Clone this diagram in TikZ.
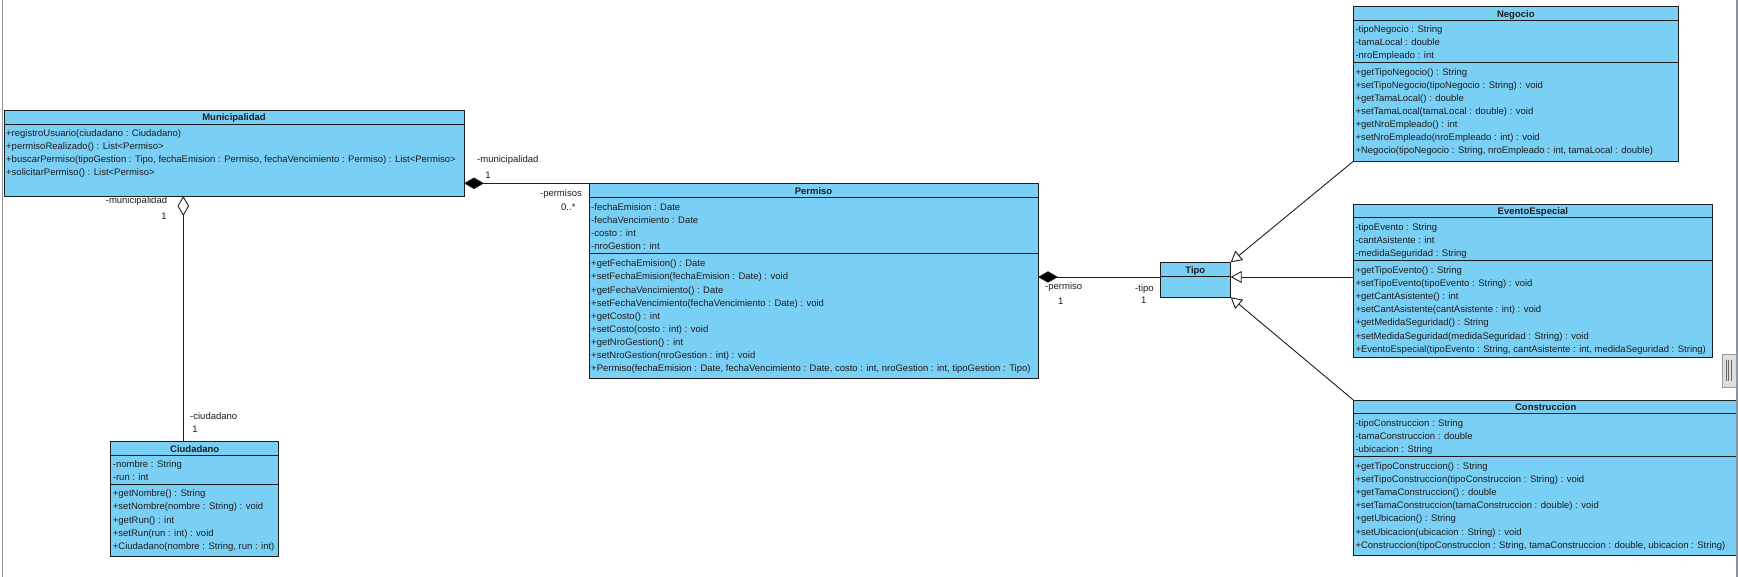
\documentclass[tikz,border=0pt]{standalone}
\usepackage{fontspec}
\setmainfont{Liberation Sans}
\usepackage{tikz}
\usetikzlibrary{arrows.meta}
\definecolor{ClassBlue}{RGB}{122,207,245}
\definecolor{EdgeGrey}{RGB}{30,30,30}
\definecolor{FrameGrey}{RGB}{140,146,154}
\definecolor{GripGrey}{RGB}{222,222,222}

\begin{document}
\begin{tikzpicture}[x=1pt,y=-1pt,
  cls/.style={draw=EdgeGrey, fill=ClassBlue, line width=0.9pt, inner sep=0pt, outer sep=0pt, anchor=north west},
  ttl/.style={font=\bfseries\fontsize{9.5}{11}\selectfont, text=EdgeGrey, inner sep=0pt, anchor=base},
  mem/.style={font=\fontsize{9.5}{13.1}\selectfont, text=EdgeGrey, align=left, inner sep=0pt, anchor=north west},
  lbl/.style={font=\fontsize{9.5}{11}\selectfont, text=EdgeGrey, inner sep=0pt, anchor=base west},
  sep/.style={draw=EdgeGrey, line width=0.9pt},
  comp/.style={{Diamond[length=20pt,width=11.5pt,fill=black]}-, draw=EdgeGrey, line width=0.9pt},
  aggr/.style={{Diamond[length=20pt,width=11.5pt,fill=white]}-, draw=EdgeGrey, line width=0.9pt},
  gen/.style={-{Triangle[length=11pt,width=12pt,fill=white]}, draw=EdgeGrey, line width=0.9pt}
]
\useasboundingbox (0,0) rectangle (1738,577);
\fill[white] (0,0) rectangle (1738,577);
%
% Municipalidad
\node[cls, minimum width=460pt, minimum height=85.3pt] (mun) at (4,110.7) {};
\draw[sep] (4,124) -- (464,124);
\node[ttl] (mun-t) at (234,121) {Municipalidad};
\node[mem] (mun-m) at (6,126.9) {\strut+registroUsuario(ciudadano : Ciudadano)\\
  +permisoRealizado() : List<Permiso>\\
  +buscarPermiso(tipoGestion : Tipo, fechaEmision : Permiso, fechaVencimiento : Permiso) : List<Permiso>\\
  +solicitarPermiso() : List<Permiso>};
%
% Permiso
\node[cls, minimum width=449pt, minimum height=195pt] (perm) at (589,183.3) {};
\draw[sep] (589,197.3) -- (1038,197.3);
\draw[sep] (589,253.7) -- (1038,253.7);
\node[ttl] (perm-t) at (813.5,194.3) {Permiso};
\node[mem] (perm-a) at (591,200.9) {\strut-fechaEmision : Date\\
  -fechaVencimiento : Date\\
  -costo : int\\
  -nroGestion : int};
\node[mem] (perm-m) at (591,257.5) {\strut+getFechaEmision() : Date\\
  +setFechaEmision(fechaEmision : Date) : void\\
  +getFechaVencimiento() : Date\\
  +setFechaVencimiento(fechaVencimiento : Date) : void\\
  +getCosto() : int\\
  +setCosto(costo : int) : void\\
  +getNroGestion() : int\\
  +setNroGestion(nroGestion : int) : void\\
  +Permiso(fechaEmision : Date, fechaVencimiento : Date, costo : int, nroGestion : int, tipoGestion : Tipo)};
%
% Tipo
\node[cls, minimum width=70.7pt, minimum height=35pt] (tipo) at (1160,262.3) {};
\draw[sep] (1160,276.5) -- (1230.7,276.5);
\node[ttl] (tipo-t) at (1195.3,273.5) {Tipo};
%
% Negocio
\node[cls, minimum width=325pt, minimum height=154.6pt] (neg) at (1353.3,6.7) {};
\draw[sep] (1353.3,20.7) -- (1678.3,20.7);
\draw[sep] (1353.3,62.7) -- (1678.3,62.7);
\node[ttl] (neg-t) at (1515.8,17.7) {Negocio};
\node[mem] (neg-a) at (1355.3,22.9) {\strut-tipoNegocio : String\\
  -tamaLocal : double\\
  -nroEmpleado : int};
\node[mem] (neg-m) at (1355.3,65.9) {\strut+getTipoNegocio() : String\\
  +setTipoNegocio(tipoNegocio : String) : void\\
  +getTamaLocal() : double\\
  +setTamaLocal(tamaLocal : double) : void\\
  +getNroEmpleado() : int\\
  +setNroEmpleado(nroEmpleado : int) : void\\
  +Negocio(tipoNegocio : String, nroEmpleado : int, tamaLocal : double)};
%
% EventoEspecial
\node[cls, minimum width=359pt, minimum height=153.3pt] (evt) at (1353.3,204) {};
\draw[sep] (1353.3,217.7) -- (1712.3,217.7);
\draw[sep] (1353.3,260.7) -- (1712.3,260.7);
\node[ttl] (evt-t) at (1532.8,214.7) {EventoEspecial};
\node[mem] (evt-a) at (1355.3,220.9) {\strut-tipoEvento : String\\
  -cantAsistente : int\\
  -medidaSeguridad : String};
\node[mem] (evt-m) at (1355.3,264.2) {\strut+getTipoEvento() : String\\
  +setTipoEvento(tipoEvento : String) : void\\
  +getCantAsistente() : int\\
  +setCantAsistente(cantAsistente : int) : void\\
  +getMedidaSeguridad() : String\\
  +setMedidaSeguridad(medidaSeguridad : String) : void\\
  +EventoEspecial(tipoEvento : String, cantAsistente : int, medidaSeguridad : String)};
%
% Construccion
\node[cls, minimum width=384pt, minimum height=155pt] (con) at (1353.3,400) {};
\draw[sep] (1353.3,413.3) -- (1737.3,413.3);
\draw[sep] (1353.3,456.7) -- (1737.3,456.7);
\node[ttl] (con-t) at (1545.7,410.3) {Construccion};
\node[mem] (con-a) at (1355.3,416.9) {\strut-tipoConstruccion : String\\
  -tamaConstruccion : double\\
  -ubicacion : String};
\node[mem] (con-m) at (1355.3,460.2) {\strut+getTipoConstruccion() : String\\
  +setTipoConstruccion(tipoConstruccion : String) : void\\
  +getTamaConstruccion() : double\\
  +setTamaConstruccion(tamaConstruccion : double) : void\\
  +getUbicacion() : String\\
  +setUbicacion(ubicacion : String) : void\\
  +Construccion(tipoConstruccion : String, tamaConstruccion : double, ubicacion : String)};
%
% Ciudadano
\node[cls, minimum width=168pt, minimum height=114.3pt] (ciu) at (110.7,441.7) {};
\draw[sep] (110.7,455) -- (278.7,455);
\draw[sep] (110.7,484.3) -- (278.7,484.3);
\node[ttl] (ciu-t) at (194.7,452) {Ciudadano};
\node[mem] (ciu-a) at (112.7,457.9) {\strut-nombre : String\\
  -run : int};
\node[mem] (ciu-m) at (112.7,487.5) {\strut+getNombre() : String\\
  +setNombre(nombre : String) : void\\
  +getRun() : int\\
  +setRun(run : int) : void\\
  +Ciudadano(nombre : String, run : int)};
%
% connectors
\coordinate (ciu-top) at ([xshift=72.6pt]ciu.north west);
\coordinate (tipo-l) at ([yshift=-14.7pt]tipo.north west);
\coordinate (tipo-r) at ([yshift=-14.7pt]tipo.north east);
\draw[comp] (mun.east |- perm.north) -- (perm.north west);
\draw[aggr] (mun.south -| ciu-top) -- (ciu-top);
\draw[comp] (perm.east |- tipo-l) -- (tipo-l);
\draw[gen] (neg.south west) -- (tipo.north east);
\draw[gen] (evt.west |- tipo-r) -- (tipo-r);
\draw[gen] (con.north west) -- (tipo.south east);
%
% role names and multiplicities
\node[lbl] (lb-mun1) at (477,162.4) {-municipalidad};
\node[lbl, anchor=base] (lb-mun1n) at (488,178.1) {1};
\node[lbl, anchor=base east] (lb-perms) at (582,196.4) {-permisos};
\node[lbl] (lb-permsn) at (561,210.4) {0..*};
\node[lbl, anchor=base east] (lb-mun2) at (167.3,203.4) {-municipalidad};
\node[lbl, anchor=base] (lb-mun2n) at (164,219.1) {1};
\node[lbl] (lb-ciu) at (190,419.4) {-ciudadano};
\node[lbl, anchor=base] (lb-ciun) at (195,432.7) {1};
\node[lbl] (lb-perm) at (1045,289.4) {-permiso};
\node[lbl, anchor=base] (lb-permn) at (1060.7,304.1) {1};
\node[lbl] (lb-tipo) at (1135,291.7) {-tipo};
\node[lbl, anchor=base] (lb-tipon) at (1143.7,303.4) {1};
%
% window frame
\draw[FrameGrey, line width=1.5pt] (2.7,0) -- (2.7,577);
\draw[FrameGrey, line width=1.5pt] (1737,0) -- (1737,577);
\filldraw[fill=GripGrey, draw=GripGrey!70!black, line width=0.6pt] (1722,354) rectangle (1736.2,387);
\draw[FrameGrey!70!black, line width=0.8pt] (1726,360) -- (1726,381) (1728.6,360) -- (1728.6,381) (1731.2,360) -- (1731.2,381);
\end{tikzpicture}
\end{document}
